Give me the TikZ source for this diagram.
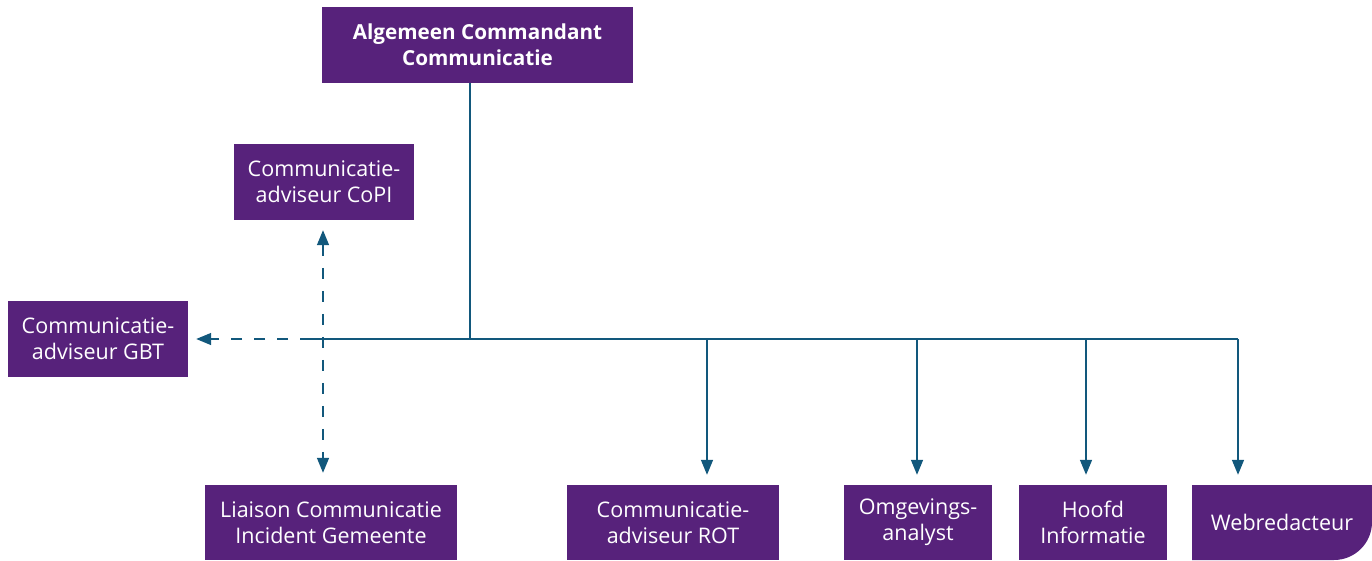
\documentclass[tikz,border=0pt]{standalone}
\usepackage{fontspec}
\setmainfont{Open Sans}
\usetikzlibrary{arrows.meta}
\definecolor{boxpurple}{RGB}{87,34,123}
\definecolor{linkblue}{RGB}{18,88,124}
\tikzset{
  orgbox/.style={fill=boxpurple, text=white, inner sep=0pt, align=center,
    font=\fontsize{21.5}{26}\selectfont},
  conn/.style={draw=linkblue, line width=1.5pt},
  tip/.style={-{Triangle[width=12pt,length=15pt]}},
  dashconn/.style={conn, dash pattern=on 11pt off 12pt},
}
\begin{document}
\begin{tikzpicture}[x=1pt,y=-1pt]
\useasboundingbox (0,0) rectangle (1372,560);
% nodes
\node[orgbox, minimum width=311pt, minimum height=76pt, font=\fontsize{20.7}{26}\selectfont\bfseries] (top) at (477.5,45) {Algemeen Commandant\\Communicatie};
\node[orgbox, minimum width=180pt, minimum height=76pt] (copi) at (324,182) {Communicatie-\\adviseur CoPI};
\node[orgbox, minimum width=180pt, minimum height=76pt] (gbt) at (98,339) {Communicatie-\\adviseur GBT};
\node[orgbox, minimum width=252pt, minimum height=75pt] (liaison) at (331,522.5) {Liaison Communicatie\\Incident Gemeente};
\node[orgbox, minimum width=212pt, minimum height=75pt] (rot) at (673,522.5) {Communicatie-\\adviseur ROT};
\node[orgbox, minimum width=148pt, minimum height=75pt] (omg) at (918,522.5) {Omgevings-\\analyst};
\node[orgbox, minimum width=148pt, minimum height=75pt] (hoofd) at (1093,522.5) {Hoofd\\Informatie};
\fill[boxpurple] (1192,485) -- (1372,485) -- (1372,522) .. controls (1372,543) and (1355,560) .. (1334,560) -- (1192,560) -- cycle;
\node[orgbox, fill=none, minimum width=180pt, minimum height=75pt] (web) at (1282,522.5) {Webredacteur};
% junctions
\coordinate (hub) at (470,339);
\coordinate (jl) at (311,339);
\coordinate (xv) at (323,339);
\coordinate (xr) at (707,339);
\coordinate (xo) at (917,339);
\coordinate (xh) at (1086,339);
\coordinate (xw) at (1238,339);
% connectors
\draw[conn] (hub |- top.south) -- (hub);
\draw[conn] (jl) -- (xw);
\draw[conn, tip, shorten >=10pt] (xr) -- (xr |- rot.north);
\draw[conn, tip, shorten >=10pt] (xo) -- (xo |- omg.north);
\draw[conn, tip, shorten >=10pt] (xh) -- (xh |- hoofd.north);
\draw[conn, tip, shorten >=10pt] (xw) -- (xw |- web.north);
\draw[dashconn, tip, shorten >=8pt] (jl) -- (gbt.east);
\draw[dashconn, {Triangle[width=12pt,length=15pt]}-{Triangle[width=12pt,length=15pt]}, shorten <=10pt, shorten >=12pt] (xv |- copi.south) -- (xv |- liaison.north);
\end{tikzpicture}
\end{document}
